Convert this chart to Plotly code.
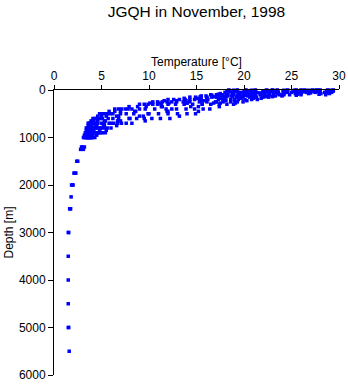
import plotly.graph_objects as go

# Standard sampling depths [m] of the upper-ocean profiles
depths = [0, 10, 20, 30, 50, 75, 100, 125, 150, 200, 250, 300, 400, 500, 600, 700, 800, 900, 1000]
# Alternative sampling depths used by a second set of casts
depths_b = [5, 15, 40, 60, 90, 110, 140, 175, 225, 275, 350, 450, 550, 650, 750, 850, 950]

# Temperature profiles [°C] (one list per station)
st_S1 = [18.4, 18.4, 18.3, 18.2, 18.0, 17.5, 16.5, 15.5, 14.3, 12.0, 10.4, 9.0, 6.4, 4.8, 4.1, 3.6, 3.4, 3.3, 3.1]
st_S2 = [19.3, 19.3, 19.2, 19.1, 18.8, 18.1, 17.1, 16.0, 14.9, 12.6, 10.9, 9.5, 6.8, 5.0, 4.3, 3.7, 3.5, 3.4, 3.2]
st_S3 = [20.2, 20.2, 20.1, 20.0, 19.6, 18.8, 17.7, 16.6, 15.5, 13.2, 11.4, 9.9, 7.1, 5.3, 4.5, 3.8, 3.6, 3.5, 3.3]
st_S4 = [21.2, 21.1, 21.1, 20.9, 20.4, 19.4, 18.3, 17.2, 16.1, 13.8, 11.9, 10.4, 7.5, 5.6, 4.7, 4.0, 3.7, 3.6, 3.4]
st_S5 = [22.4, 22.3, 22.3, 22.0, 21.3, 20.1, 18.9, 17.7, 16.6, 14.3, 12.4, 10.9, 7.8, 5.9, 4.9, 4.2, 3.8, 3.8, 3.5]
st_S6 = [23.5, 23.5, 23.4, 23.1, 22.2, 20.8, 19.5, 18.3, 17.1, 14.8, 12.9, 11.3, 8.2, 6.2, 5.1, 4.3, 3.9, 3.9, 3.6]
st_M1 = [24.6, 24.5, 24.4, 24.2, 23.4, 22.0, 20.6, 19.3, 18.1, 16.2, 14.3, 12.8, 9.6, 7.6, 6.2, 5.0, 4.2, 4.0, 3.6]
st_M2 = [23.0, 23.0, 22.9, 22.7, 22.0, 21.0, 19.9, 18.7, 17.5, 15.4, 13.6, 12.0, 9.0, 7.0, 5.7, 4.6, 4.0, 3.8, 3.5]
st_M3 = [26.0, 26.0, 25.9, 25.7, 25.0, 23.6, 22.2, 20.8, 19.5, 17.3, 15.3, 13.7, 10.6, 8.4, 6.8, 5.3, 4.4, 4.2, 3.7]
st_M4 = [27.6, 27.6, 27.5, 27.4, 27.0, 26.0, 24.2, 22.2, 20.9, 19.0, 17.1, 15.6, 12.4, 10.0, 8.0, 6.0, 4.8, 4.6, 3.9]
st_D1 = [29.4, 29.4, 29.4, 29.3, 29.2, 29.0, 28.6, 24.0, 22.6, 21.4, 19.9, 18.9, 16.4, 14.9, 12.2, 8.2, 6.0, 5.4, 4.3]
st_D2 = [28.8, 28.8, 28.7, 28.7, 28.5, 28.1, 26.0, 23.3, 22.0, 20.8, 19.3, 18.2, 15.7, 14.0, 11.2, 7.6, 5.6, 5.1, 4.1]
st_D3 = [28.0, 28.0, 27.9, 27.8, 27.5, 26.8, 24.8, 22.6, 21.3, 20.1, 18.6, 17.4, 14.8, 13.0, 10.3, 7.1, 5.3, 4.9, 4.0]
st_D4 = [27.2, 27.2, 27.1, 27.0, 26.6, 25.4, 23.7, 21.9, 20.6, 19.4, 17.8, 16.5, 13.9, 12.0, 9.5, 6.7, 5.0, 4.7, 3.9]
st_D5 = [26.4, 26.3, 26.3, 26.1, 25.5, 24.2, 22.7, 21.2, 19.9, 18.6, 17.0, 15.6, 12.9, 11.0, 8.7, 6.3, 4.8, 4.5, 3.8]
st_D6 = [25.5, 25.5, 25.4, 25.2, 24.5, 23.1, 21.7, 20.4, 19.2, 17.8, 16.1, 14.6, 11.8, 9.9, 7.9, 5.8, 4.5, 4.3, 3.7]

# Second set of casts (sampled at depths_b)
st_B1 = [18.9, 18.9, 18.6, 18.2, 17.3, 16.6, 15.4, 13.7, 11.6, 10.1, 7.9, 5.8, 4.6, 3.9, 3.6, 3.4, 3.2]
st_B2 = [20.8, 20.7, 20.4, 19.9, 18.9, 18.2, 16.9, 15.1, 12.9, 11.2, 8.8, 6.4, 5.0, 4.2, 3.8, 3.6, 3.4]
st_B3 = [23.0, 22.9, 22.4, 21.6, 20.1, 19.3, 18.0, 16.1, 13.9, 12.1, 9.7, 7.0, 5.5, 4.6, 4.0, 3.8, 3.6]
st_B4 = [25.3, 25.2, 24.6, 23.6, 21.9, 21.0, 19.6, 17.9, 15.8, 14.0, 11.4, 8.5, 6.6, 5.4, 4.5, 4.2, 3.8]
st_B5 = [27.8, 27.8, 27.5, 27.0, 25.6, 24.0, 22.3, 21.0, 19.0, 17.5, 15.2, 12.0, 9.0, 6.7, 5.2, 4.8, 4.1]
st_B6 = [29.1, 29.1, 28.9, 28.7, 27.9, 25.5, 23.0, 21.8, 20.3, 19.1, 17.4, 15.2, 13.2, 9.6, 6.6, 5.5, 4.5]
st_B7 = [26.8, 26.7, 26.4, 25.6, 24.0, 22.6, 21.0, 19.7, 18.1, 16.8, 14.4, 11.9, 9.4, 7.0, 5.3, 4.8, 4.0]
st_B8 = [24.2, 24.1, 23.6, 22.7, 21.2, 20.2, 18.8, 17.5, 15.6, 14.0, 11.3, 8.6, 6.8, 5.3, 4.4, 4.1, 3.7]

stations = [st_S1, st_S2, st_S3, st_S4, st_S5, st_S6, st_M1, st_M2, st_M3, st_M4,
            st_D1, st_D2, st_D3, st_D4, st_D5, st_D6]
stations_b = [st_B1, st_B2, st_B3, st_B4, st_B5, st_B6, st_B7, st_B8]

# Deep-water samples
deep_T = [3.2, 3.0, 2.8, 3.1, 2.9, 2.5, 2.4, 2.3, 2.2, 2.1, 2.0, 1.95, 1.85, 1.8,
          1.75, 1.7, 1.65, 1.55, 1.5, 1.5, 1.5, 1.5, 1.5, 1.55, 1.6]
deep_D = [1200, 1200, 1250, 1250, 1200, 1500, 1500, 1750, 1750, 1750, 2000, 2000, 2000, 2250,
          2500, 2500, 2500, 3000, 3000, 3500, 4000, 4500, 5000, 5000, 5500]

x_ticks = [0, 5, 10, 15, 20, 25, 30]
y_ticks = [0, 1000, 2000, 3000, 4000, 5000, 6000]

temps = []
deps = []
for st in stations:
    temps.extend(st)
    deps.extend(depths)
for st in stations_b:
    temps.extend(st)
    deps.extend(depths_b)
temps.extend(deep_T)
deps.extend(deep_D)

FONT = "Liberation Sans, Arial, sans-serif"
BLUE = "#0000ff"

fig = go.Figure(go.Scatter(
    x=temps, y=deps, mode="markers",
    marker=dict(symbol="square", size=3.5, color=BLUE, line=dict(width=0)),
    hoverinfo="skip", cliponaxis=False,
))

fig.update_layout(
    width=348, height=384,
    margin=dict(l=54, r=9, t=90, b=9, autoexpand=False),
    paper_bgcolor="white", plot_bgcolor="white",
    showlegend=False,
    font=dict(family=FONT, size=12, color="black"),
    title=dict(text="JGQH in November, 1998", x=0.5, xref="paper", xanchor="center",
               y=1 - 12 / 384, yref="container", yanchor="middle",
               font=dict(family=FONT, size=15.5, color="black")),
)
fig.update_xaxes(
    side="top", range=[0, 30], tickmode="array", tickvals=x_ticks,
    ticks="outside", ticklen=4, tickwidth=1, tickcolor="black",
    showline=True, linecolor="black", linewidth=1, showgrid=False, zeroline=False,
    automargin=False,
    title=dict(text="Temperature [°C]", font=dict(family=FONT, size=12), standoff=0),
    tickfont=dict(family=FONT, size=12),
)
fig.update_yaxes(
    range=[6000, 0], tickmode="array", tickvals=y_ticks,
    ticks="outside", ticklen=5, tickwidth=1, tickcolor="black",
    showline=True, linecolor="black", linewidth=1, showgrid=False, zeroline=False,
    automargin=False,
    title=dict(text="Depth [m]", font=dict(family=FONT, size=12), standoff=2),
    tickfont=dict(family=FONT, size=12),
)

fig.write_html(
    "out.html",
    config={"displayModeBar": False},
    post_script="document.body.style.margin='0';document.body.style.overflow='hidden';",
)
